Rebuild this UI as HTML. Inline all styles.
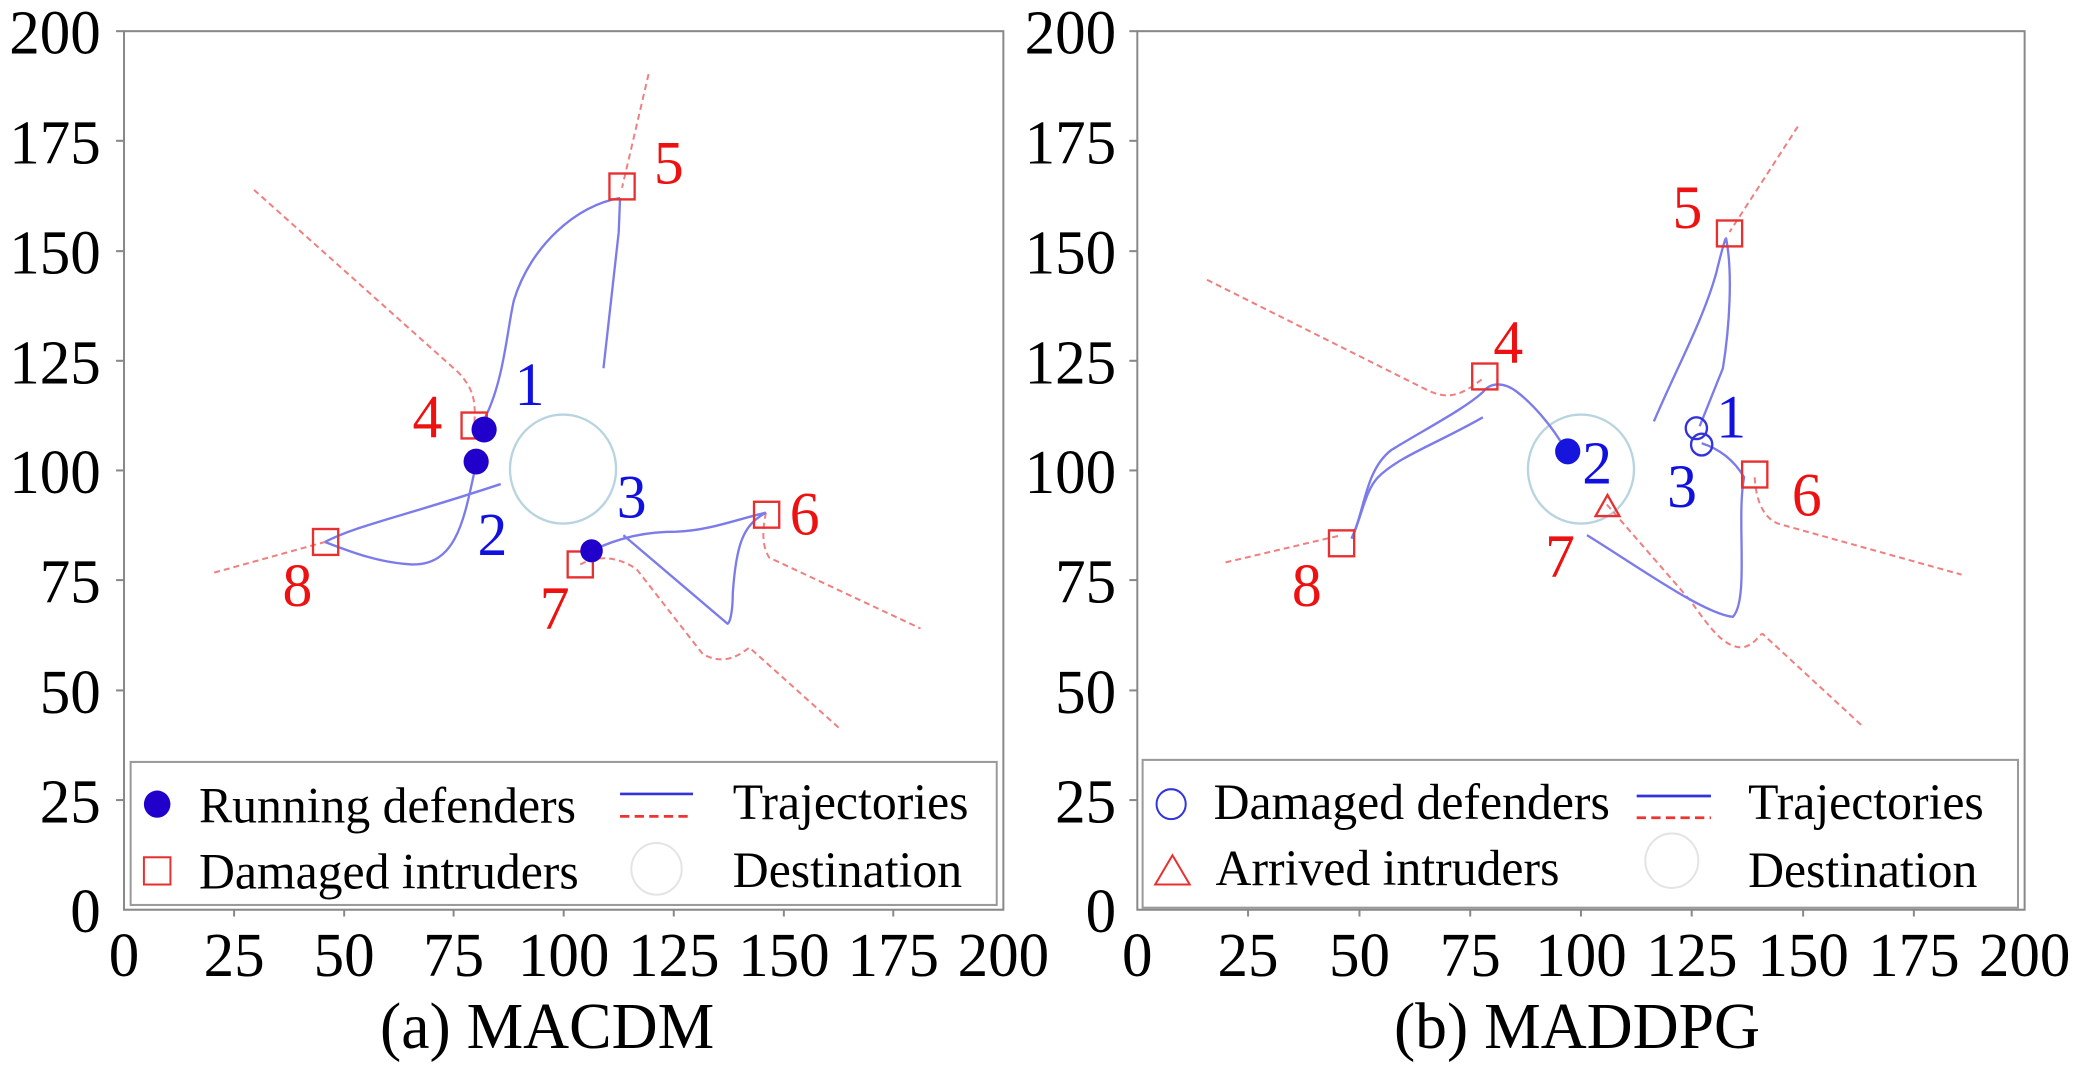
<!DOCTYPE html>
<html><head><meta charset="utf-8"><style>
html,body{margin:0;padding:0;background:#fff}
svg{display:block}
text{font-family:"Liberation Serif",serif}
</style></head><body>
<svg width="2079" height="1067" viewBox="0 0 3135 1609" preserveAspectRatio="none">
<rect width="3135" height="1609" fill="#fff"/>
<g transform="translate(0,47) scale(1,1.027) translate(0,-45)">
<!-- LEFT PLOT -->
<g>
<rect x="187" y="45" width="1326" height="1290" fill="none" stroke="#888" stroke-width="3"/>
<g font-size="92" text-anchor="end" fill="#000">
<text x="152" y="78">200</text><text x="152" y="239">175</text><text x="152" y="401">150</text><text x="152" y="562">125</text><text x="152" y="723">100</text><text x="152" y="884">75</text><text x="152" y="1046">50</text><text x="152" y="1207">25</text><text x="152" y="1368">0</text>
</g>
<g font-size="92" text-anchor="middle" fill="#000">
<text x="187" y="1432">0</text><text x="353" y="1432">25</text><text x="519" y="1432">50</text><text x="684" y="1432">75</text><text x="850" y="1432">100</text><text x="1016" y="1432">125</text><text x="1182" y="1432">150</text><text x="1347" y="1432">175</text><text x="1513" y="1432">200</text>
<text x="825" y="1538" font-size="96">(a) MACDM</text>
</g>
<g stroke="#888" stroke-width="3">
<line x1="175" y1="45" x2="187" y2="45"/><line x1="175" y1="206" x2="187" y2="206"/><line x1="175" y1="368" x2="187" y2="368"/><line x1="175" y1="529" x2="187" y2="529"/><line x1="175" y1="690" x2="187" y2="690"/><line x1="175" y1="851" x2="187" y2="851"/><line x1="175" y1="1013" x2="187" y2="1013"/><line x1="175" y1="1174" x2="187" y2="1174"/>
<line x1="353" y1="1335" x2="353" y2="1345"/><line x1="519" y1="1335" x2="519" y2="1345"/><line x1="684" y1="1335" x2="684" y2="1345"/><line x1="850" y1="1335" x2="850" y2="1345"/><line x1="1016" y1="1335" x2="1016" y2="1345"/><line x1="1182" y1="1335" x2="1182" y2="1345"/><line x1="1347" y1="1335" x2="1347" y2="1345"/>
</g>
<circle cx="849" cy="688" r="80" fill="none" stroke="#b8d4e0" stroke-width="3.5"/>
<g fill="none" stroke="#f08080" stroke-width="3" stroke-dasharray="9,6">
<path d="M383,278 L690,545 C715,570 718,590 715,625"/>
<path d="M978,108 L938,275"/>
<path d="M1155,752 C1150,775 1148,800 1160,818 L1388,922"/>
<path d="M875,828 C900,815 930,815 960,835 L1060,960 C1090,975 1110,965 1130,950 L1265,1068"/>
<path d="M323,840 L490,795"/>
</g>
<g fill="none" stroke="#7b7bea" stroke-width="3.5">
<path d="M730,615 C760,560 765,480 775,440 C800,360 870,300 935,290"/>
<path d="M935,290 L933,340 L910,540"/>
<path d="M718,680 C700,760 690,830 620,828 C570,825 530,810 490,795"/>
<path d="M490,795 C540,770 600,760 755,710"/>
<path d="M892,808 C930,790 970,780 1020,780 C1070,778 1110,762 1155,752"/>
<path d="M1155,752 C1120,770 1110,800 1105,870 C1105,900 1100,915 1097,915 L940,785"/>
</g>
<g fill="none" stroke="#e83030" stroke-width="3.5">
<rect x="919" y="254" width="38" height="38"/><rect x="696" y="605" width="38" height="38"/><rect x="1137" y="736" width="38" height="38"/><rect x="856" y="809" width="38" height="38"/><rect x="472" y="776" width="38" height="38"/>
</g>
<g fill="#2200cc"><circle cx="730" cy="630" r="19"/><circle cx="718" cy="677" r="19"/><circle cx="892" cy="808" r="17"/></g>
<g font-size="90" fill="#1010e0"><text x="776" y="594">1</text><text x="720" y="814">2</text><text x="930" y="759">3</text></g>
<g font-size="90" fill="#ee1111"><text x="622" y="642">4</text><text x="986" y="269">5</text><text x="1191" y="784">6</text><text x="814" y="922">7</text><text x="426" y="889">8</text></g>
<rect x="197" y="1118" width="1306" height="210" fill="#fff" stroke="#999" stroke-width="3"/>
<circle cx="237" cy="1180" r="20" fill="#2200cc"/>
<rect x="217" y="1258" width="40" height="40" fill="none" stroke="#e83030" stroke-width="3"/>
<line x1="935" y1="1165" x2="1045" y2="1165" stroke="#3333dd" stroke-width="4"/>
<line x1="935" y1="1198" x2="1045" y2="1198" stroke="#ee3333" stroke-width="4" stroke-dasharray="14,8"/>
<circle cx="990" cy="1275" r="38" fill="none" stroke="#e4e4e4" stroke-width="3"/>
<g font-size="75" fill="#000"><text x="300" y="1207">Running defenders</text><text x="300" y="1304">Damaged intruders</text><text x="1105" y="1202">Trajectories</text><text x="1105" y="1302">Destination</text></g>
</g>
<!-- RIGHT PLOT -->
<g transform="translate(1568,0)">
<rect x="147" y="45" width="1338" height="1290" fill="none" stroke="#888" stroke-width="3"/>
<g font-size="92" text-anchor="end" fill="#000">
<text x="115" y="78">200</text><text x="115" y="239">175</text><text x="115" y="401">150</text><text x="115" y="562">125</text><text x="115" y="723">100</text><text x="115" y="884">75</text><text x="115" y="1046">50</text><text x="115" y="1207">25</text><text x="115" y="1368">0</text>
</g>
<g font-size="92" text-anchor="middle" fill="#000">
<text x="147" y="1432">0</text><text x="314" y="1432">25</text><text x="482" y="1432">50</text><text x="649" y="1432">75</text><text x="816" y="1432">100</text><text x="983" y="1432">125</text><text x="1151" y="1432">150</text><text x="1318" y="1432">175</text><text x="1485" y="1432">200</text>
<text x="810" y="1538" font-size="96">(b) MADDPG</text>
</g>
<g stroke="#888" stroke-width="3">
<line x1="135" y1="45" x2="147" y2="45"/><line x1="135" y1="206" x2="147" y2="206"/><line x1="135" y1="368" x2="147" y2="368"/><line x1="135" y1="529" x2="147" y2="529"/><line x1="135" y1="690" x2="147" y2="690"/><line x1="135" y1="851" x2="147" y2="851"/><line x1="135" y1="1013" x2="147" y2="1013"/><line x1="135" y1="1174" x2="147" y2="1174"/>
<line x1="314" y1="1335" x2="314" y2="1345"/><line x1="482" y1="1335" x2="482" y2="1345"/><line x1="649" y1="1335" x2="649" y2="1345"/><line x1="816" y1="1335" x2="816" y2="1345"/><line x1="983" y1="1335" x2="983" y2="1345"/><line x1="1151" y1="1335" x2="1151" y2="1345"/><line x1="1318" y1="1335" x2="1318" y2="1345"/>
</g>
<circle cx="816" cy="688" r="80" fill="none" stroke="#b8d4e0" stroke-width="3.5"/>
<g fill="none" stroke="#f08080" stroke-width="3" stroke-dasharray="9,6">
<path d="M252,410 L580,570 C610,585 630,585 668,555"/>
<path d="M1143,185 L1040,340"/>
<path d="M1078,700 C1080,740 1095,765 1120,770 L1390,843"/>
<path d="M855,740 L980,880 C1010,920 1030,950 1060,950 C1080,945 1085,930 1090,930 L1240,1065"/>
<path d="M280,825 L455,785"/>
</g>
<g fill="none" stroke="#7b7bea" stroke-width="3.5">
<path d="M795,663 C770,620 740,590 720,575 C700,560 680,560 668,575 C640,600 580,630 530,660 C490,690 490,750 470,790"/>
<path d="M668,612 C600,650 540,670 510,700 C490,720 485,760 470,790"/>
<path d="M926,618 C960,540 1000,470 1020,400 C1030,360 1035,345 1035,350"/>
<path d="M1035,350 C1045,400 1040,480 1030,540 L995,625"/>
<path d="M998,650 C1030,660 1050,680 1062,700 C1050,760 1070,880 1045,905 C1000,900 900,830 825,785"/>
</g>
<g fill="none" stroke="#e83030" stroke-width="3.5">
<rect x="652" y="533" width="38" height="38"/><rect x="1021" y="323" width="38" height="38"/><rect x="1059" y="677" width="38" height="38"/><rect x="436" y="778" width="38" height="38"/>
<path d="M856,726 L874,757 L838,757 Z"/>
</g>
<circle cx="796" cy="662" r="19" fill="#1515dd"/>
<g fill="none" stroke="#3333dd" stroke-width="3.5"><circle cx="990" cy="628" r="16"/><circle cx="998" cy="652" r="16"/></g>
<g font-size="90" fill="#1010e0"><text x="1020" y="642">1</text><text x="818" y="709">2</text><text x="946" y="744">3</text></g>
<g font-size="90" fill="#ee1111"><text x="684" y="532">4</text><text x="954" y="334">5</text><text x="1134" y="756">6</text><text x="762" y="846">7</text><text x="380" y="889">8</text></g>
<rect x="155" y="1115" width="1320" height="217" fill="#fff" stroke="#999" stroke-width="3"/>
<circle cx="198" cy="1180" r="22" fill="none" stroke="#3333dd" stroke-width="3"/>
<path d="M200,1255 L226,1298 L174,1298 Z" fill="none" stroke="#e83030" stroke-width="3"/>
<line x1="900" y1="1168" x2="1012" y2="1168" stroke="#3333dd" stroke-width="4"/>
<line x1="900" y1="1200" x2="1012" y2="1200" stroke="#ee3333" stroke-width="4" stroke-dasharray="14,8"/>
<circle cx="953" cy="1263" r="40" fill="none" stroke="#e4e4e4" stroke-width="3"/>
<g font-size="75" fill="#000"><text x="262" y="1202">Damaged defenders</text><text x="265" y="1299">Arrived intruders</text><text x="1068" y="1202">Trajectories</text><text x="1068" y="1302">Destination</text></g>
</g>
</g>
</svg>
</body></html>
